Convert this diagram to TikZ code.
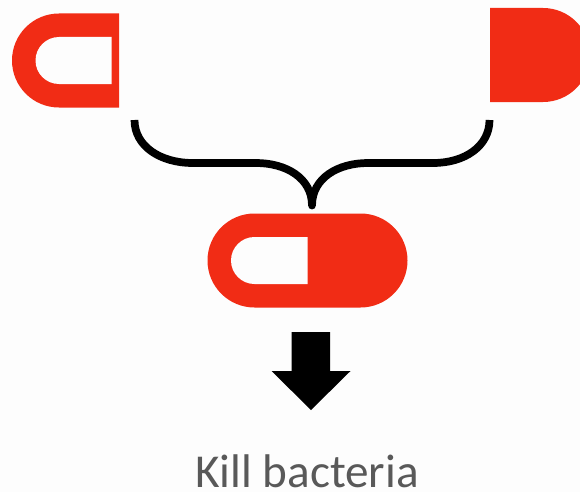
\documentclass[tikz,border=0pt]{standalone}
\usepackage{xcolor}
\usepackage{fontspec}
\setmainfont{Carlito}
\definecolor{cPill}{RGB}{241,44,21}
\definecolor{cPaper}{RGB}{253,253,253}
\definecolor{cLabel}{RGB}{89,89,89}
\tikzset{
  pillpart/.style={fill=cPill},
  holepart/.style={fill=cPaper},
  bracketline/.style={draw=black,line width=5.8pt}
}

\begin{document}
\begin{tikzpicture}[x=0.75pt,y=-0.75pt]
\fill[cPaper] (0,0) rectangle (580,492);
\clip (0,0) rectangle (580,492);
% left half
\fill[pillpart] (119,13.5) -- (59,13.5) arc[start angle=90,end angle=270,x radius=47,y radius=-47] -- (119,107.5) -- cycle;
\fill[holepart] (111.5,37) -- (59,37) arc[start angle=90,end angle=270,x radius=23.5,y radius=-23.5] -- (111.5,84) -- cycle;
% right half
\fill[pillpart] (490,8) -- (543,8) arc[start angle=90,end angle=-90,x radius=47,y radius=-47] -- (490,102) -- cycle;
% bracket
\coordinate (tip) at (312,205.5);
\draw[bracketline] (134.5,120) .. controls (134.5,146) and (160,163) .. (193,163) -- (256,163) .. controls (286,163) and (312,178) .. (tip);
\draw[bracketline] (489.5,120) .. controls (489.5,146) and (465,163) .. (433,163) -- (368,163) .. controls (338,163) and (312,178) .. (tip);
\fill[black] (tip) circle[radius=3.9];
% joined pill
\fill[pillpart] (254.5,213.5) -- (360.5,213.5) arc[start angle=90,end angle=-90,x radius=47,y radius=-47] -- (254.5,307.5) arc[start angle=270,end angle=90,x radius=47,y radius=-47] -- cycle;
\fill[holepart] (307.5,237) -- (254.5,237) arc[start angle=90,end angle=270,x radius=23.5,y radius=-23.5] -- (307.5,284) -- cycle;
% arrow
\fill[black] (291.5,332) -- (330,332) -- (330,371) -- (350.5,371) -- (311,410) -- (271.5,371) -- (291.5,371) -- cycle;
\node[anchor=base,text=cLabel,font=\fontsize{35.4}{42}\selectfont,inner sep=0pt] (killlabel) at (307,487) {Kill bacteria};
\end{tikzpicture}
\end{document}
